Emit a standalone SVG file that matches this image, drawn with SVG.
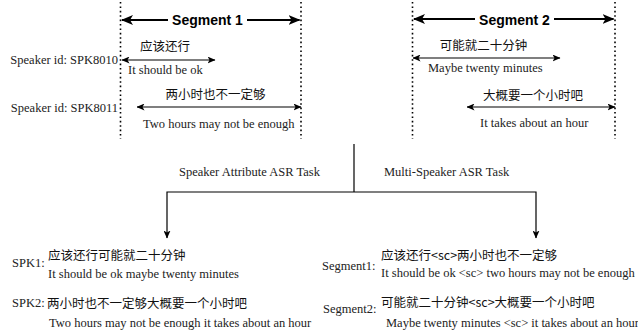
<svg xmlns="http://www.w3.org/2000/svg" width="638" height="334" viewBox="0 0 638 334">
<style>
.en{font-family:"Liberation Serif","Times New Roman",serif;font-size:12.5px;fill:#222}
.zh{font-family:"Noto Sans CJK SC","Noto Sans",sans-serif;font-size:12.5px;fill:#111}
.seg{font-family:"Liberation Sans",Arial,sans-serif;font-size:14px;font-weight:bold;fill:#000}
.dot{stroke:#000;stroke-width:1.6;stroke-dasharray:1.6 2.8;fill:none}
.big{stroke:#000;stroke-width:2.2;fill:none}
.thin{stroke:#000;stroke-width:1.2;fill:none}
</style>
<defs>
<marker id="bh" markerUnits="userSpaceOnUse" viewBox="0 0 12 10" refX="11" refY="5" markerWidth="12" markerHeight="10" orient="auto-start-reverse">
<path d="M0,0 L12,5 L0,10 L3,5 Z" fill="#000"/>
</marker>
<marker id="sh" markerUnits="userSpaceOnUse" viewBox="0 0 8 7" refX="7.5" refY="3.5" markerWidth="8" markerHeight="7" orient="auto-start-reverse">
<path d="M0,0 L8,3.5 L0,7 L2,3.5 Z" fill="#000"/>
</marker>
</defs>

<g id="guides">
<line class="dot" x1="120.5" y1="2" x2="120.5" y2="139"/>
<line class="dot" x1="301" y1="2" x2="301" y2="139"/>
<line class="dot" x1="412.5" y1="2" x2="412.5" y2="139"/>
<line class="dot" x1="615" y1="2" x2="615" y2="139"/>
</g>

<g id="segment1">
<text class="seg" x="207.5" y="25" text-anchor="middle">Segment 1</text>
</g>
<g id="segment2">
<text class="seg" x="514.5" y="25" text-anchor="middle">Segment 2</text>
</g>

<g id="spk8010">
<text class="en" x="118" y="64" text-anchor="end" font-size="13.3">Speaker id: SPK8010</text>
<text class="zh" x="165" y="51" text-anchor="middle">应该还行</text>
<text class="en" x="128" y="74">It should be ok</text>
</g>
<g id="spk8011">
<text class="en" x="118" y="112" text-anchor="end" font-size="13.3">Speaker id: SPK8011</text>
<text class="zh" x="215.5" y="99" text-anchor="middle">两小时也不一定够</text>
<text class="en" x="143" y="128">Two hours may not be enough</text>
</g>
<g id="utt3">
<text class="zh" x="483.5" y="50" text-anchor="middle">可能就二十分钟</text>
<text class="en" x="428" y="72">Maybe twenty minutes</text>
</g>
<g id="utt4">
<text class="zh" x="533" y="100" text-anchor="middle">大概要一个小时吧</text>
<text class="en" x="480" y="127">It takes about an hour</text>
</g>

<g id="task-labels">
<text class="en" x="179" y="176" font-size="12">Speaker Attribute ASR Task</text>
<text class="en" x="384" y="176" font-size="12">Multi-Speaker ASR Task</text>
</g>

<g id="sa-result">
<text class="en" x="12" y="267">SPK1:</text>
<text class="zh" x="48" y="260">应该还行可能就二十分钟</text>
<text class="en" x="48" y="278">It should be ok maybe twenty minutes</text>
<text class="en" x="12" y="307">SPK2:</text>
<text class="zh" x="47" y="308">两小时也不一定够大概要一个小时吧</text>
<text class="en" x="49" y="327">Two hours may not be enough it takes about an hour</text>
</g>

<g id="ms-result">
<text class="en" x="322" y="270">Segment1:</text>
<text class="zh" x="381" y="260">应该还行&lt;sc&gt;两小时也不一定够</text>
<text class="en" x="381" y="277">It should be ok &lt;sc&gt; two hours may not be enough</text>
<text class="en" x="323" y="313">Segment2:</text>
<text class="zh" x="381" y="307">可能就二十分钟&lt;sc&gt;大概要一个小时吧</text>
<text class="en" x="386" y="327">Maybe twenty minutes &lt;sc&gt; it takes about an hour</text>
</g>

<g id="connectors">
<line class="big" x1="168" y1="20" x2="122" y2="20" marker-end="url(#bh)"/>
<line class="big" x1="247" y1="20" x2="299.5" y2="20" marker-end="url(#bh)"/>
<line class="big" x1="475" y1="19" x2="414" y2="19" marker-end="url(#bh)"/>
<line class="big" x1="554" y1="19" x2="613.5" y2="19" marker-end="url(#bh)"/>
<line class="thin" x1="122" y1="60" x2="215" y2="60" marker-start="url(#sh)" marker-end="url(#sh)"/>
<line class="thin" x1="137" y1="107" x2="301" y2="107" marker-start="url(#sh)" marker-end="url(#sh)"/>
<line class="thin" x1="413" y1="58" x2="560" y2="58" marker-start="url(#sh)" marker-end="url(#sh)"/>
<line class="thin" x1="467" y1="107" x2="615" y2="107" marker-start="url(#sh)" marker-end="url(#sh)"/>
<line class="thin" x1="354" y1="144" x2="354" y2="192"/>
<polyline class="thin" points="167,238 167,192 536,192 536,238" marker-start="url(#sh)" marker-end="url(#sh)"/>
</g>
</svg>
